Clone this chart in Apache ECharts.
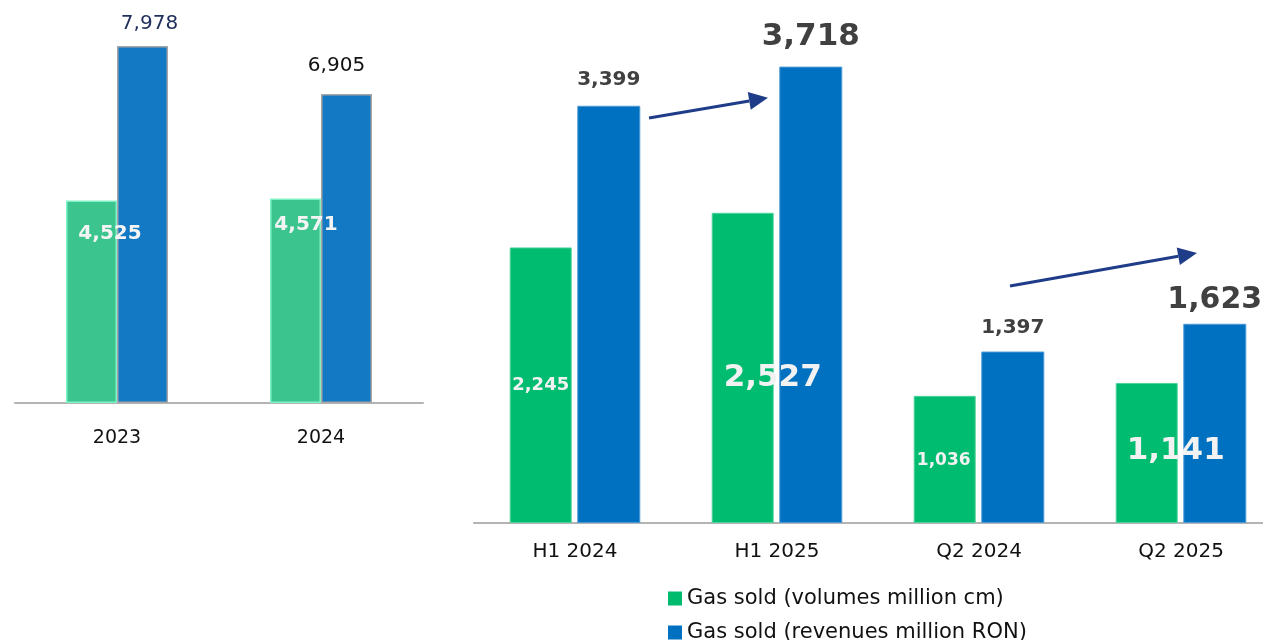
<!DOCTYPE html>
<html>
<head>
<meta charset="utf-8">
<script src="https://cdn.jsdelivr.net/npm/echarts@6/dist/echarts.min.js"></script>
<style>html,body{margin:0;padding:0;background:#fff;}#c{width:1263px;height:640px;}</style>
</head>
<body>
<div id="c"></div>
<script>
// ---- data ----
const yearCats = ['2023', '2024'];
const yearVolumes = [4525, 4571];
const yearRevenues = [7978, 6905];
const periodCats = ['H1 2024', 'H1 2025', 'Q2 2024', 'Q2 2025'];
const periodVolumes = [2245, 2527, 1036, 1141];
const periodRevenues = [3399, 3718, 1397, 1623];
const legendNames = ['Gas sold (volumes million cm)', 'Gas sold (revenues million RON)'];

const FONT = 'DejaVu Sans';
const fmt = v => v.toLocaleString('en-US');

// label styling per item (presentation only)
const yearVolLabel = [
  {position: [44, 33], fontSize: 20},
  {position: [36, 26], fontSize: 20}
];
const yearRevLabel = [
  {distance: 12, offset: [7, 0], color: '#1f2d5a'},
  {distance: 18, offset: [-10, 0], color: '#111111'}
];
const perVolLabel = [
  {position: [31, 138], fontSize: 18},
  {position: [61, 165], fontSize: 31},
  {position: [30, 65], fontSize: 17},
  {position: [60, 68], fontSize: 31}
];
const perRevLabel = [
  {distance: 16, fontSize: 20},
  {distance: 14, fontSize: 31},
  {distance: 14, fontSize: 20},
  {distance: 9, fontSize: 30}
];

const chart = echarts.init(document.getElementById('c'));

const legendBase = {
  orient: 'vertical',
  left: 663,
  itemWidth: 14,
  itemHeight: 14,
  itemGap: 5,
  icon: 'rect',
  textStyle: {fontFamily: FONT, fontSize: 21, color: '#111'}
};

const option = {
  animation: false,
  backgroundColor: '#ffffff',
  textStyle: {fontFamily: FONT},
  legend: [
    Object.assign({}, legendBase, {top: 583, data: [{name: legendNames[0], itemStyle: {color: '#00bb6e', borderWidth: 0}}]}),
    Object.assign({}, legendBase, {top: 617, data: [{name: legendNames[1], itemStyle: {color: '#0070c0', borderWidth: 0}}]})
  ],
  grid: [
    {left: 15, top: 45, width: 408, height: 358, outerBoundsMode: 'none', containLabel: false},
    {left: 474, top: 32, width: 808, height: 491, outerBoundsMode: 'none', containLabel: false}
  ],
  xAxis: [
    {
      type: 'category', gridIndex: 0, data: yearCats,
      axisLine: {lineStyle: {color: '#b4b4b4', width: 2}},
      axisTick: {show: false},
      axisLabel: {fontFamily: FONT, fontSize: 19, color: '#111', margin: 26}
    },
    {
      type: 'category', gridIndex: 1, data: periodCats,
      axisLine: {lineStyle: {color: '#b4b4b4', width: 2}},
      axisTick: {show: false},
      axisLabel: {fontFamily: FONT, fontSize: 20, color: '#111', margin: 19}
    }
  ],
  yAxis: [
    {type: 'value', gridIndex: 0, min: 0, max: 8000, show: false, splitLine: {show: false}},
    {type: 'value', gridIndex: 1, min: 0, max: 4000, show: false, splitLine: {show: false}}
  ],
  series: [
    {
      name: legendNames[0], type: 'bar', xAxisIndex: 0, yAxisIndex: 0,
      barWidth: 51, barGap: '0%',
      itemStyle: {color: '#3cc48f', borderColor: '#80f2c6', borderWidth: 1.5},
      data: yearVolumes.map((v, i) => ({
        value: v,
        label: {
          show: true, formatter: fmt(v), position: yearVolLabel[i].position,
          align: 'center', verticalAlign: 'middle',
          fontFamily: FONT, fontWeight: 'bold', fontSize: yearVolLabel[i].fontSize, color: '#f4f4f4'
        }
      })),
      z: 3
    },
    {
      name: legendNames[1], type: 'bar', xAxisIndex: 0, yAxisIndex: 0,
      barWidth: 51, barGap: '0%',
      itemStyle: {color: '#1479c4', borderColor: '#a6a6a6', borderWidth: 1.5},
      data: yearRevenues.map((v, i) => ({
        value: v,
        label: {
          show: true, formatter: fmt(v), position: 'top',
          distance: yearRevLabel[i].distance, offset: yearRevLabel[i].offset,
          fontFamily: FONT, fontSize: 20, color: yearRevLabel[i].color
        }
      })),
      z: 2
    },
    {
      name: legendNames[0], type: 'bar', xAxisIndex: 1, yAxisIndex: 1,
      barWidth: 62, barGap: '9%',
      itemStyle: {color: '#00bc70', borderColor: '#4fd39a', borderWidth: 1},
      data: periodVolumes.map((v, i) => ({
        value: v,
        label: {
          show: true, formatter: fmt(v), position: perVolLabel[i].position,
          align: 'center', verticalAlign: 'middle',
          fontFamily: FONT, fontWeight: 'bold', fontSize: perVolLabel[i].fontSize, color: '#f2f2f2'
        }
      })),
      z: 3
    },
    {
      name: legendNames[1], type: 'bar', xAxisIndex: 1, yAxisIndex: 1,
      barWidth: 63, barGap: '9%',
      itemStyle: {color: '#0070c0', borderColor: '#4d9bd6', borderWidth: 1},
      data: periodRevenues.map((v, i) => ({
        value: v,
        label: {
          show: true, formatter: fmt(v), position: 'top',
          distance: perRevLabel[i].distance,
          fontFamily: FONT, fontWeight: 'bold', fontSize: perRevLabel[i].fontSize, color: '#404040'
        }
      })),
      z: 2
    }
  ]
};
chart.setOption(option);

// ---- trend arrows (annotations), anchored to the right grid's scale ----
function arrow(p0, p1) {
  const color = '#1f3c88';
  const dx = p1[0] - p0[0], dy = p1[1] - p0[1];
  const len = Math.sqrt(dx * dx + dy * dy);
  const ux = dx / len, uy = dy / len;
  const hl = 19, hw = 9;
  const bx = p1[0] - ux * hl, by = p1[1] - uy * hl;
  return [
    {type: 'line', shape: {x1: p0[0], y1: p0[1], x2: bx, y2: by}, style: {stroke: color, lineWidth: 3}, z: 10},
    {type: 'polygon', shape: {points: [[p1[0], p1[1]], [bx - uy * hw, by + ux * hw], [bx + uy * hw, by - ux * hw]]}, style: {fill: color}, z: 10}
  ];
}
const px = (ci, v) => chart.convertToPixel({gridIndex: 1}, [ci, v]);
const a1s = px(0, 3300), a1e = px(1, 3464);
const a2s = px(2, 1931), a2e = px(3, 2200);
chart.setOption({
  graphic: [
    ...arrow([a1s[0] + 74, a1s[1]], [a1e[0] - 9, a1e[1]]),
    ...arrow([a2s[0] + 31, a2s[1]], [a2e[0] + 16, a2e[1]])
  ]
});
</script>
</body>
</html>
